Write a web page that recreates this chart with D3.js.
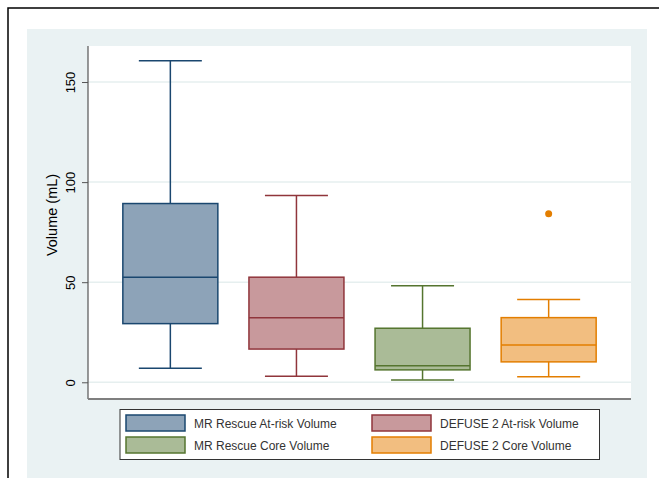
<!DOCTYPE html>
<html>
<head>
<meta charset="utf-8">
<script src="https://cdn.jsdelivr.net/npm/d3@7"></script>
<style>
  html, body { margin: 0; padding: 0; background: #ffffff; }
  svg { display: block; }
  text { font-family: Arial, "Liberation Sans", sans-serif; }
</style>
</head>
<body>
<svg id="chart" width="659" height="478"></svg>
<script>
// Box-plot summaries for the four volume groups
const categories = [
  "MR Rescue At-risk Volume",
  "DEFUSE 2 At-risk Volume",
  "MR Rescue Core Volume",
  "DEFUSE 2 Core Volume"
];
const whiskerLow  = [7.0, 3.0, 1.2, 2.8];
const q1          = [29.3, 16.6, 6.2, 10.2];
const median      = [52.5, 32.2, 8.3, 18.6];
const q3          = [89.3, 52.5, 27.0, 32.3];
const whiskerHigh = [160.6, 93.3, 48.2, 41.3];
const outliers    = [[], [], [], [84.2]];
const yTicks      = [0, 50, 100, 150];
const yTitle      = "Volume (mL)";

const strokeColors = ["#1a476f", "#90353b", "#55752f", "#e37e00"];
const fillColors   = ["#8da3b8", "#c8999c", "#aabb97", "#f2be80"];

const svg = d3.select("#chart");

// Outer frame and graph region
svg.append("rect").attr("x", 8).attr("y", 8).attr("width", 670).attr("height", 490)
  .attr("fill", "#ffffff").attr("stroke", "#000000").attr("stroke-width", 1.5);
svg.append("rect").attr("x", 27).attr("y", 29).attr("width", 620).attr("height", 470)
  .attr("fill", "#eaf2f3");

const plot = { left: 88, right: 631, top: 46, bottom: 399 };
svg.append("rect").attr("x", plot.left).attr("y", plot.top)
  .attr("width", plot.right - plot.left).attr("height", plot.bottom - plot.top)
  .attr("fill", "#ffffff");

const y = d3.scaleLinear().domain([-8.35, 168]).range([plot.bottom, plot.top]);
const x = d3.scalePoint().domain(categories).range([plot.left, plot.right]).padding(0.653);

// Horizontal grid lines
svg.append("g").selectAll("line").data(yTicks).join("line")
  .attr("x1", plot.left).attr("x2", plot.right)
  .attr("y1", d => y(d)).attr("y2", d => y(d))
  .attr("stroke", "#e6efef").attr("stroke-width", 1.5);

// Y axis
const yAxis = svg.append("g").attr("transform", `translate(${plot.left},0)`)
  .call(d3.axisLeft(y).tickValues(yTicks).tickSize(6).tickSizeOuter(0).tickFormat(d3.format("d")));
yAxis.select(".domain").attr("stroke", "#555555").attr("stroke-width", 1.2)
  .attr("d", `M0,${plot.top}V${plot.bottom}`);
yAxis.selectAll(".tick line").attr("stroke", "#555555").attr("stroke-width", 1);
yAxis.selectAll(".tick text")
  .attr("font-size", "13px").attr("fill", "#000000")
  .attr("text-anchor", "middle")
  .attr("x", null).attr("dy", null)
  .attr("transform", "translate(-13.5,0) rotate(-90)");

// Y axis title
svg.append("text").text(yTitle)
  .attr("transform", `translate(57,${215}) rotate(-90)`)
  .attr("text-anchor", "middle").attr("font-size", "14.5px").attr("fill", "#000000");

// X axis line
svg.append("line").attr("x1", plot.left).attr("x2", plot.right)
  .attr("y1", plot.bottom).attr("y2", plot.bottom)
  .attr("stroke", "#7f7f7f").attr("stroke-width", 2);

// Boxes
const boxW = 95, capW = 63;
const groups = svg.append("g").selectAll("g").data(categories).join("g");

groups.each(function(c, i) {
  const g = d3.select(this);
  const cx = x(c);
  const sc = strokeColors[i];
  // whiskers
  g.append("line").attr("x1", cx).attr("x2", cx).attr("y1", y(q3[i])).attr("y2", y(whiskerHigh[i]))
    .attr("stroke", sc).attr("stroke-width", 1.5);
  g.append("line").attr("x1", cx).attr("x2", cx).attr("y1", y(q1[i])).attr("y2", y(whiskerLow[i]))
    .attr("stroke", sc).attr("stroke-width", 1.5);
  g.append("line").attr("x1", cx - capW / 2).attr("x2", cx + capW / 2)
    .attr("y1", y(whiskerHigh[i])).attr("y2", y(whiskerHigh[i]))
    .attr("stroke", sc).attr("stroke-width", 1.5);
  g.append("line").attr("x1", cx - capW / 2).attr("x2", cx + capW / 2)
    .attr("y1", y(whiskerLow[i])).attr("y2", y(whiskerLow[i]))
    .attr("stroke", sc).attr("stroke-width", 1.5);
  // box
  g.append("rect").attr("x", cx - boxW / 2).attr("width", boxW)
    .attr("y", y(q3[i])).attr("height", y(q1[i]) - y(q3[i]))
    .attr("fill", fillColors[i]).attr("stroke", sc).attr("stroke-width", 1.5);
  // median
  g.append("line").attr("x1", cx - boxW / 2).attr("x2", cx + boxW / 2)
    .attr("y1", y(median[i])).attr("y2", y(median[i]))
    .attr("stroke", sc).attr("stroke-width", 1.5);
  // outside values
  g.selectAll("circle").data(outliers[i]).join("circle")
    .attr("cx", cx).attr("cy", d => y(d)).attr("r", 3.5).attr("fill", sc);
});

// Legend
const legend = svg.append("g");
legend.append("rect").attr("x", 120).attr("y", 409.5).attr("width", 479.5).attr("height", 50)
  .attr("fill", "#ffffff").attr("stroke", "#333333").attr("stroke-width", 1);
const colX = [126, 372];
const rowY = [415, 437];
categories.forEach((c, i) => {
  const col = i % 2, row = Math.floor(i / 2);
  legend.append("rect").attr("x", colX[col]).attr("y", rowY[row]).attr("width", 59).attr("height", 16)
    .attr("fill", fillColors[i]).attr("stroke", strokeColors[i]).attr("stroke-width", 1.5);
  legend.append("text").text(c)
    .attr("x", colX[col] + 68).attr("y", rowY[row] + 13)
    .attr("font-size", "12px").attr("fill", "#333333");
});
</script>
</body>
</html>
